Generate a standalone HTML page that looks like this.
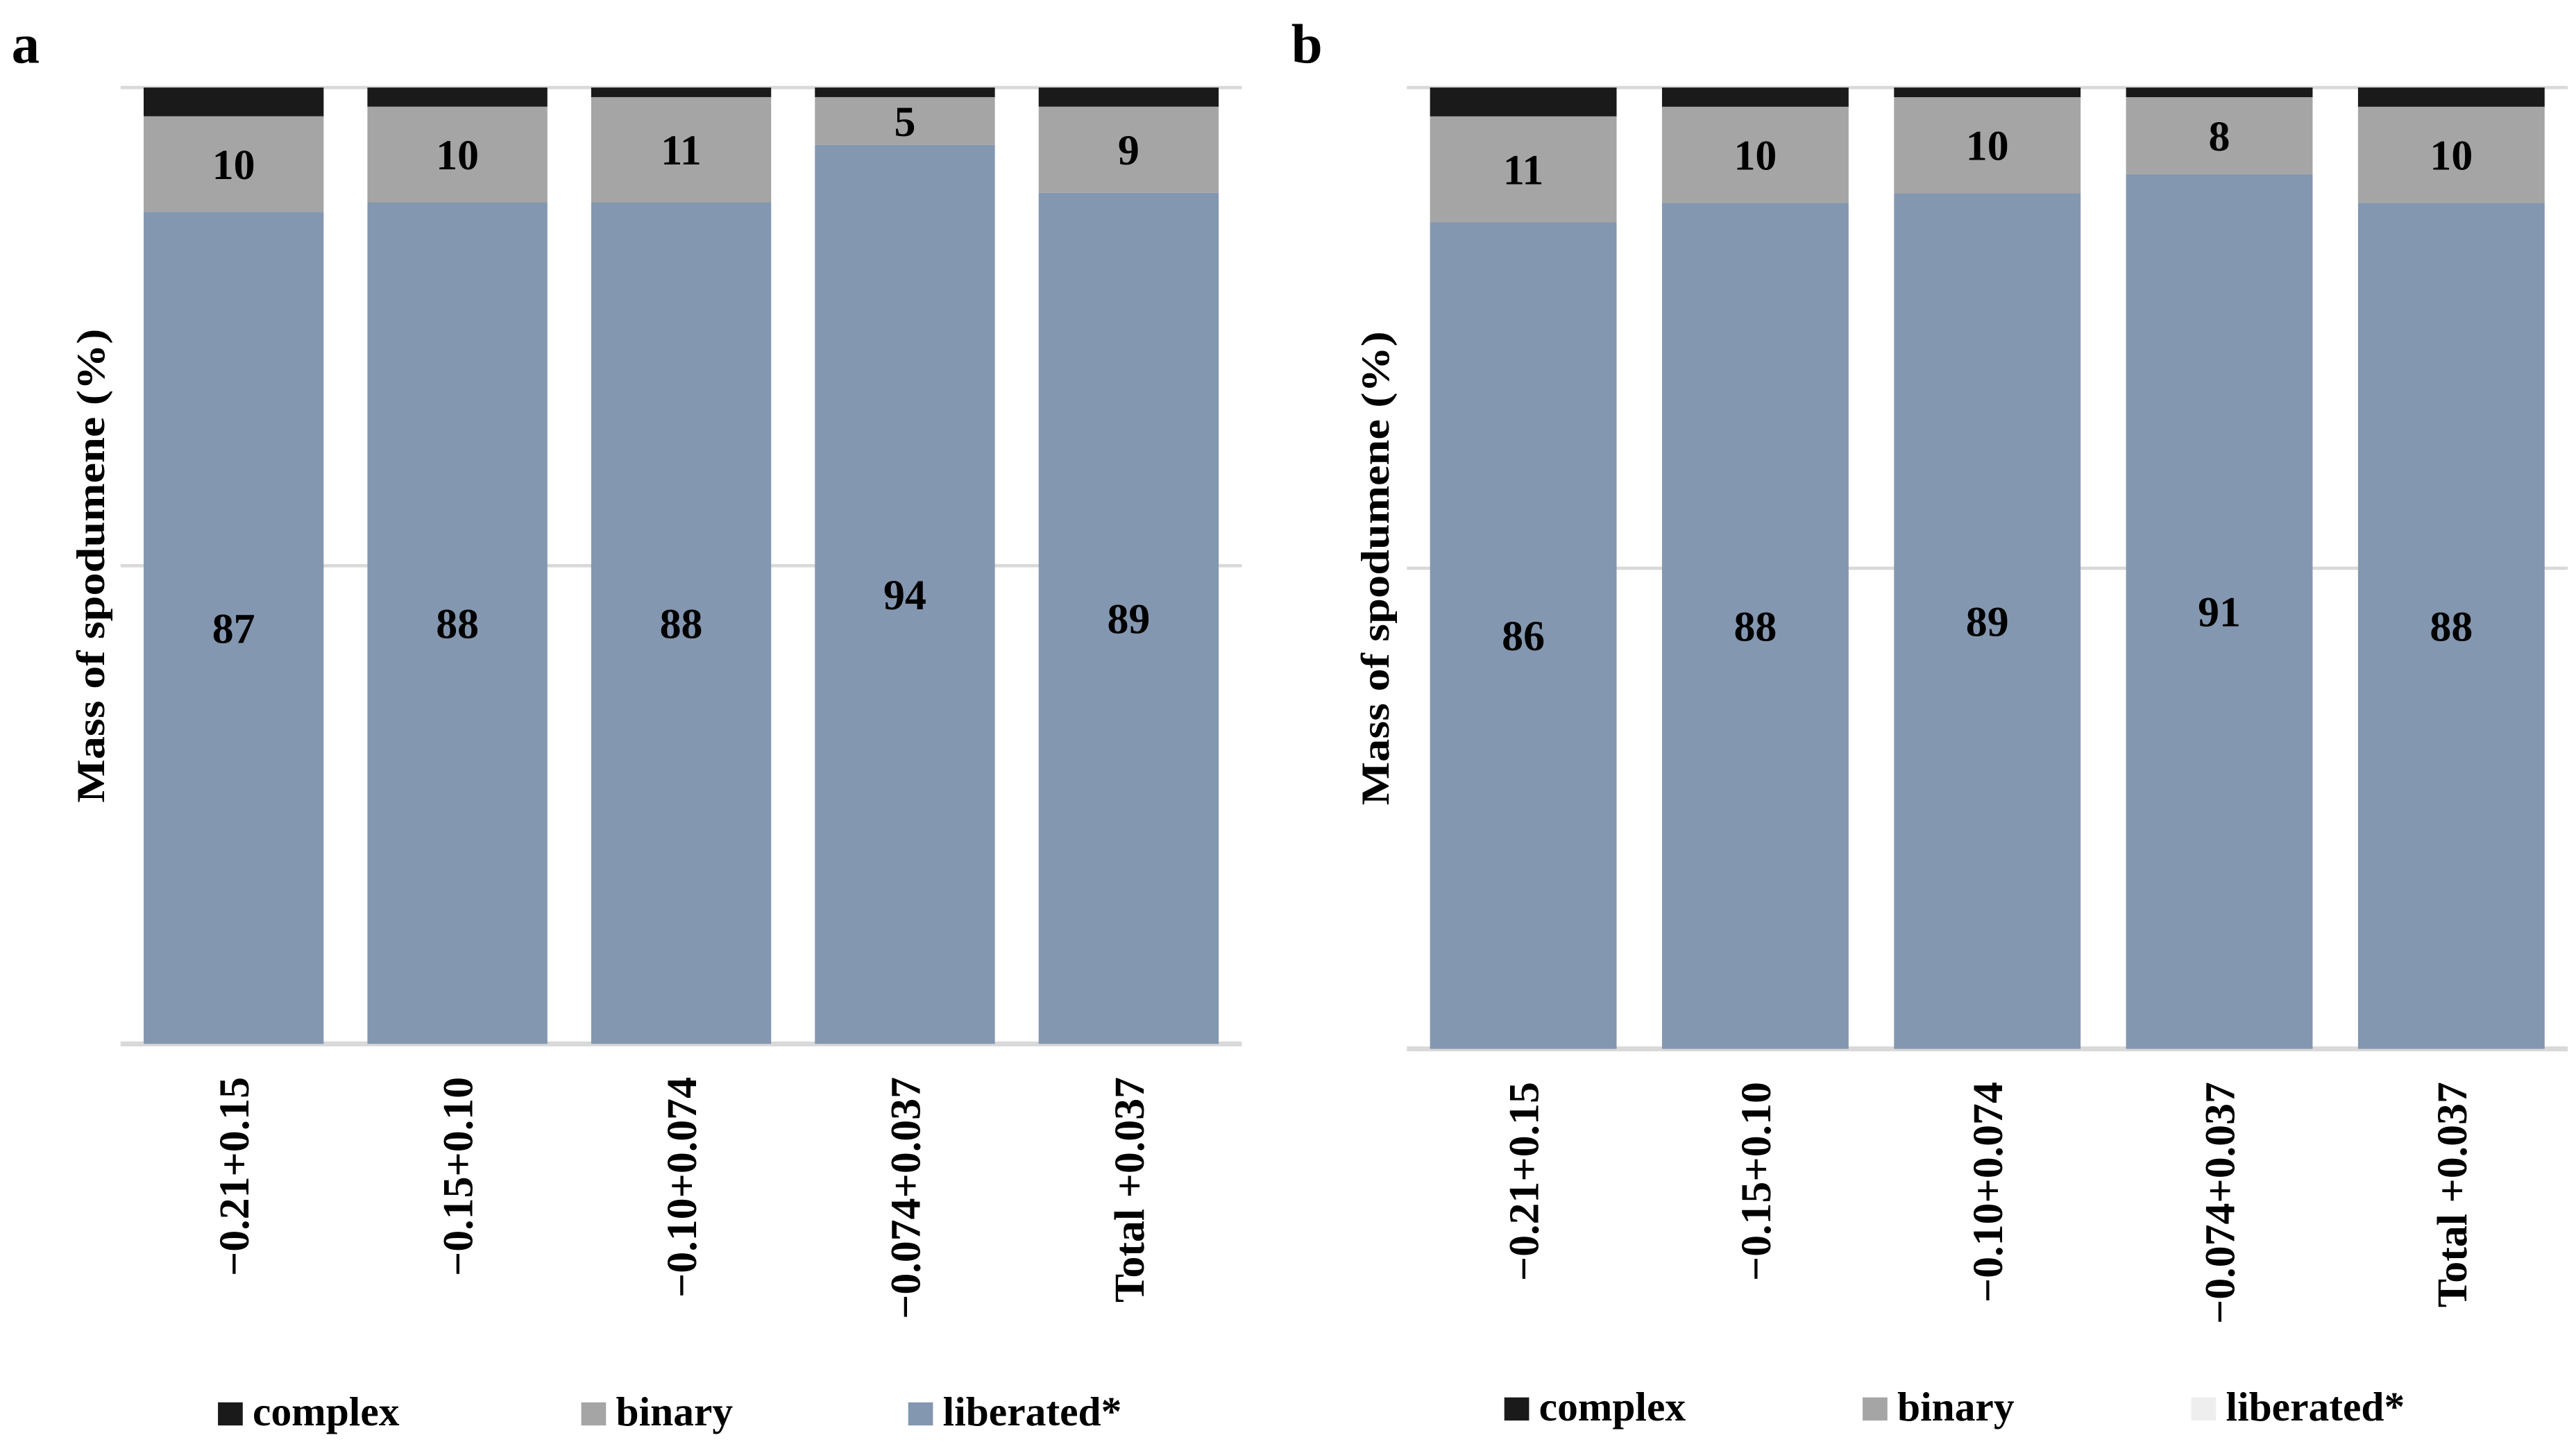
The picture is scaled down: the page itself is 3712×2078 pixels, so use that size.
<!DOCTYPE html>
<html><head><meta charset="utf-8"><style>
html,body{margin:0;padding:0;background:#fff;}
svg{display:block;}
text{font-family:"Liberation Serif",serif;font-weight:bold;fill:#000;}
</style></head><body>
<svg id="fig" width="3712" height="2078" viewBox="0 0 1560 873" preserveAspectRatio="none"></svg>
<script>
const categories = ["\u22120.21+0.15","\u22120.15+0.10","\u22120.10+0.074","\u22120.074+0.037","Total +0.037"];
const liberatedA = [87,88,88,94,89];
const binaryA = [10,10,11,5,9];
const complexA = [3,2,1,1,2];
const liberatedB = [86,88,89,91,88];
const binaryB = [11,10,10,8,10];
const complexB = [3,2,1,1,2];
const yTicks = [0,50,100];

const NS="http://www.w3.org/2000/svg";
const svg=document.getElementById('fig');
function el(tag,attrs,parent){const e=document.createElementNS(NS,tag);for(const k in attrs)e.setAttribute(k,attrs[k]);(parent||svg).appendChild(e);return e;}
const colors={complex:"#1a1a1a",binary:"#a5a5a5",liberated:"#8497b0"};

function panel(cfg){
  const g=el('g',{});
  
  
  const y=v=>cfg.y0-(v/100)*(cfg.y0-cfg.y1);
  const x=i=>cfg.bx0+i*cfg.step;
  const lt=el('text',{x:cfg.lx,y:38,'font-size':34},g);lt.textContent=cfg.letter;
  
  
  yTicks.forEach(t=>{
    const l=el('line',{x1:cfg.gx0,x2:cfg.gx1,y1:y(t),y2:y(t),stroke:'#d9d9d9','stroke-width':t===0?3:2},g);
    
    
  });
  const yt=el('text',{transform:`translate(${cfg.ytx},${(cfg.y0+cfg.y1)/2}) rotate(-90)`,'text-anchor':'middle','font-size':24,textLength:287,lengthAdjust:'spacingAndGlyphs'},g);
  yt.textContent='Mass of spodumene (%)';
  
  
  categories.forEach((c,i)=>{
    const segs=[['liberated',cfg.lib[i],0],['binary',cfg.bin[i],cfg.lib[i]],['complex',cfg.com[i],cfg.lib[i]+cfg.bin[i]]];
    segs.forEach(([name,v,base])=>{
      const top=Math.min(100,base+v);
      const r=el('rect',{x:x(i),y:y(top),width:cfg.bw,height:y(base)-y(top),fill:colors[name]},g);
      
      
      if(name!=='complex'){
        const t=el('text',{x:x(i)+cfg.bw/2,y:(y(base)+y(top))/2+9,'text-anchor':'middle','font-size':26},g);
        t.textContent=v;
        
        
      }
    });
    const xl=el('text',{transform:`translate(${x(i)+cfg.bw/2+9},${cfg.y0+20}) rotate(-90)`,'text-anchor':'end','font-size':26},g);
    xl.textContent=c;
    
    
  });
  const leg=[['complex',cfg.legx[0]],['binary',cfg.legx[1]],['liberated*',cfg.legx[2]]];
  leg.forEach(([n,lx],k)=>{
    const key=k===2?'liberated':n;
    const s=el('rect',{x:lx,y:cfg.legy-14,width:15,height:14,fill:(cfg.letter==='b'&&k===2)?'#eeeeee':colors[key]},g);
    
    
    const t=el('text',{x:lx+21,y:cfg.legy,'font-size':25},g);
    t.textContent=n;
    
    
  });
}
panel({letter:'a',lx:7,gx0:73,gx1:752,y0:632,y1:53,bx0:87,step:135.5,bw:109,ytx:63,lib:liberatedA,bin:binaryA,com:complexA,legx:[132,352,550],legy:863});
panel({letter:'b',lx:782,gx0:852,gx1:1555,y0:635,y1:53,bx0:866,step:140.5,bw:113,ytx:841,lib:liberatedB,bin:binaryB,com:complexB,legx:[911,1128,1327],legy:860});
</script>
</body></html>
